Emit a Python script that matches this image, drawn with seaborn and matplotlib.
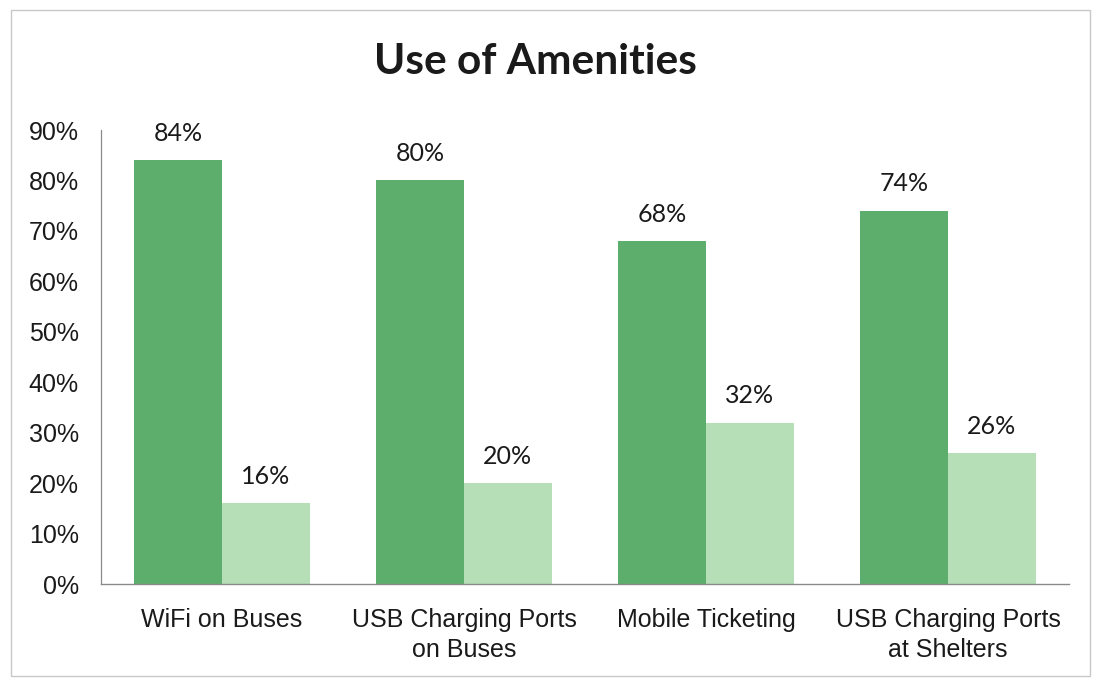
import matplotlib
matplotlib.use("Agg")
import matplotlib.pyplot as plt
from matplotlib.patches import Rectangle
import seaborn as sns
import pandas as pd

# Survey results: share of riders who use each amenity vs. those who don't
amenities = ["WiFi on Buses", "USB Charging Ports\non Buses",
             "Mobile Ticketing", "USB Charging Ports\nat Shelters"]
used = [84, 80, 68, 74]
not_used = [16, 20, 32, 26]
responses = ["Yes", "No"]
y_ticks = [0, 10, 20, 30, 40, 50, 60, 70, 80, 90]

df = pd.DataFrame({
    "amenity": amenities * 2,
    "response": [responses[0]] * len(amenities) + [responses[1]] * len(amenities),
    "pct": used + not_used,
})

sns.set_theme(style="white")
plt.rcParams["font.family"] = ["Liberation Sans", "DejaVu Sans"]

fig = plt.figure(figsize=(10.97, 6.78), dpi=100)
ax = fig.add_axes([0.092, 0.1386, 0.8825, 0.6696])

palette = {"Yes": "#5DAE6C", "No": "#B6DFB8"}
sns.barplot(data=df, x="amenity", y="pct", hue="response", order=amenities,
            hue_order=responses, palette=palette, width=0.725, saturation=1,
            edgecolor="none", linewidth=0, legend=False, ax=ax)

for cont in ax.containers:
    ax.bar_label(cont, labels=[f"{v:.0f}%" for v in cont.datavalues],
                 padding=11, fontsize=18, family="Lato", color="#1a1a1a")

ax.set_ylim(0, 90)
ax.set_xlim(-0.5, 3.5)
ax.set_yticks(y_ticks)
ax.set_yticklabels([f"{t}%" for t in y_ticks], fontsize=18, color="#1a1a1a")
ax.tick_params(axis="x", labelsize=18, labelcolor="#1a1a1a", pad=17, length=0)
ax.tick_params(axis="y", pad=16, length=0)
ax.set_xlabel("")
ax.set_ylabel("")
for lab in ax.get_xticklabels():
    lab.set_linespacing(1.35)

sns.despine(ax=ax, top=True, right=True)
ax.spines["left"].set_color("#8a8a8a")
ax.spines["left"].set_linewidth(0.9)
ax.spines["bottom"].set_color("#8a8a8a")
ax.spines["bottom"].set_linewidth(1.0)

fig.text(0.488, 0.908, "Use of Amenities", ha="center", va="center",
         fontsize=30.5, fontweight="bold", family="Lato", color="#1a1a1a")

# thin frame around the whole chart area
fig.patches.append(Rectangle((11 / 1097, 2 / 678), 1079 / 1097, 666 / 678,
                             transform=fig.transFigure, fill=False,
                             edgecolor="#c8c8c8", linewidth=1.0))

fig.savefig("out.png", dpi=100)
